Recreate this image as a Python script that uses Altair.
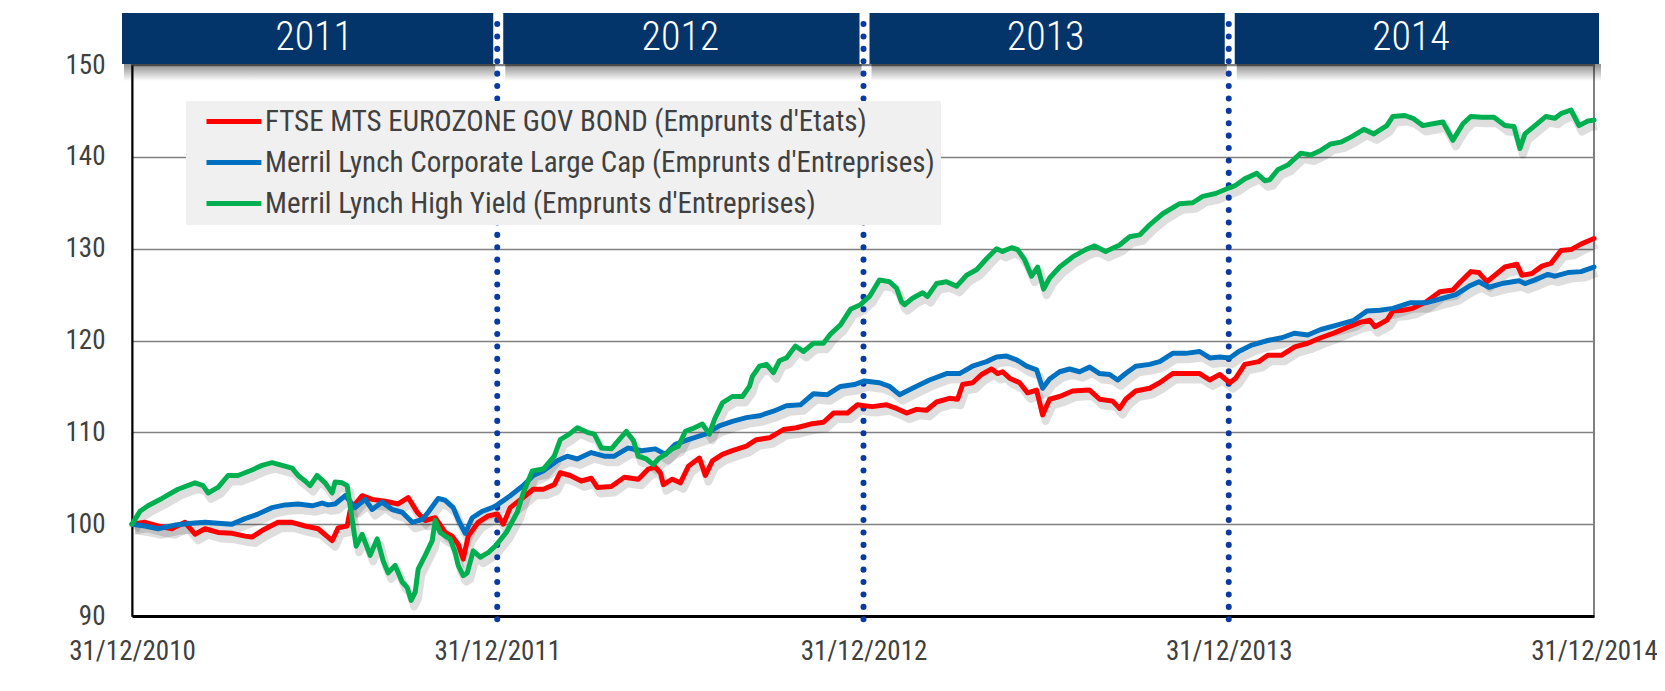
import altair as alt
import pandas as pd

FONT = "Liberation Sans Narrow, Arial Narrow, Roboto Condensed, DejaVu Sans Condensed, sans-serif"

SERIES = [
    "FTSE MTS EUROZONE GOV BOND (Emprunts d'Etats)",
    "Merril Lynch Corporate Large Cap (Emprunts d'Entreprises)",
    "Merril Lynch High Yield (Emprunts d'Entreprises)",
]
COLORS = ["#ff0000", "#0070c0", "#00b050"]

# days since 31/12/2010 and index values (base 100)
red_days = [0, 13, 26, 40, 53, 63, 73, 86, 100, 113, 120, 130, 146, 160, 173, 186, 200, 206, 215, 218,
            230, 240, 253, 266, 276, 285, 293, 303, 313, 320, 326, 331, 336, 346, 356, 365, 371, 378, 391, 401,
            411, 422, 428, 438, 449, 459, 465, 479, 492, 506, 516, 523, 528, 531, 540, 548, 556, 567, 573, 580,
            590, 600, 614, 624, 637, 651, 664, 678, 691, 701, 715, 725, 732, 740, 754, 764, 774, 784, 794, 804,
            817, 825, 830, 840, 849, 859, 865, 870, 877, 887, 895, 904, 910, 917, 927, 940, 957, 967, 980, 987,
            993, 1003, 1017, 1027, 1040, 1053, 1067, 1077, 1087, 1097, 1103, 1112, 1126, 1135, 1149, 1162, 1175, 1188, 1201, 1214,
            1228, 1237, 1242, 1254, 1260, 1270, 1280, 1293, 1307, 1320, 1326, 1338, 1346, 1354, 1362, 1372, 1384, 1389, 1399, 1409,
            1418, 1428, 1438, 1448, 1461]
red_vals = [100, 100.2, 99.8, 99.5, 100.2, 98.9, 99.5, 99.1, 99, 98.7, 98.6, 99.3, 100.2, 100.2, 99.8, 99.5, 98.2, 99.6, 99.8, 101.5,
            103.1, 102.7, 102.5, 102.2, 102.9, 101.3, 100.4, 100.7, 99.1, 98.7, 97.8, 96.2, 98.7, 100.2, 100.9, 101.1, 100, 101.8, 102.9, 103.8,
            103.8, 104.3, 105.6, 105.3, 104.7, 105, 104, 104.1, 105.1, 104.9, 106, 106.2, 105.6, 104.3, 104.9, 104.5, 106.3, 107.2, 105.3, 106.9,
            107.6, 108, 108.5, 109.2, 109.4, 110.3, 110.5, 110.9, 111.1, 112.1, 112.1, 113, 112.9, 112.8, 113, 112.6, 112.1, 112.5, 112.4, 113.3,
            113.7, 113.6, 115.2, 115.4, 116.3, 116.9, 116.4, 116.6, 115.9, 115.4, 114.3, 114.6, 111.9, 113.6, 113.9, 114.5, 114.6, 113.6, 113.4, 112.6,
            113.6, 114.5, 114.8, 115.4, 116.4, 116.4, 116.4, 115.7, 116.3, 115.4, 115.9, 117.4, 117.7, 118.4, 118.4, 119.3, 119.7, 120.3, 120.8, 121.4,
            122, 122.2, 121.5, 122.2, 123.2, 123.3, 123.5, 124.2, 125.3, 125.5, 126.2, 127.5, 127.4, 126.4, 127.1, 128, 128.3, 127.1, 127.3, 128.1,
            128.4, 129.8, 129.9, 130.5, 131.1]

blue_days = [0, 13, 26, 43, 60, 73, 86, 100, 113, 126, 140, 153, 166, 180, 190, 196, 203, 213, 223, 233,
             240, 250, 260, 270, 280, 290, 296, 306, 313, 321, 326, 333, 340, 350, 360, 365, 378, 391, 401, 411,
             425, 435, 445, 459, 472, 482, 496, 509, 523, 533, 543, 556, 573, 587, 600, 614, 627, 641, 654, 668,
             681, 695, 708, 722, 732, 747, 757, 767, 780, 797, 814, 827, 840, 854, 864, 874, 884, 894, 904, 910,
             917, 927, 937, 947, 957, 967, 977, 985, 993, 1003, 1017, 1027, 1040, 1053, 1067, 1077, 1087, 1097, 1106, 1119,
             1135, 1149, 1162, 1175, 1188, 1205, 1221, 1234, 1247, 1260, 1277, 1293, 1310, 1323, 1336, 1346, 1356, 1369, 1386, 1392,
             1402, 1415, 1422, 1435, 1448, 1461]
blue_vals = [100, 99.8, 99.5, 99.9, 100.1, 100.2, 100.1, 100, 100.6, 101.1, 101.8, 102.1, 102.2, 102, 102.3, 102.1, 102.2, 103.1, 101.8, 102.7,
             101.6, 102.4, 101.6, 101.3, 100.2, 100.5, 101.3, 102.8, 102.6, 101.8, 100.5, 99, 100.7, 101.4, 101.8, 102.1, 103.1, 104.2, 105.3, 105.8,
             106.9, 107.4, 107.1, 107.8, 107.4, 107.4, 108.3, 108, 108.2, 107.6, 108.7, 109.2, 109.8, 110.7, 111.2, 111.6, 111.8, 112.3, 112.9, 113,
             114.2, 114.1, 115, 115.2, 115.6, 115.4, 115, 114.1, 114.8, 115.7, 116.4, 116.4, 117.2, 117.7, 118.2, 118.3, 117.9, 117.2, 116.8, 114.8,
             115.8, 116.6, 116.9, 116.6, 117.1, 116.4, 116.3, 115.7, 116.4, 117.2, 117.4, 117.7, 118.6, 118.6, 118.8, 118.1, 118.2, 118.1, 118.8, 119.5,
             120, 120.3, 120.8, 120.6, 121.2, 121.7, 122.2, 123.2, 123.3, 123.5, 124.1, 124.1, 124.6, 125, 125.9, 126.4, 125.8, 126.2, 126.5, 126.2,
             126.6, 127.2, 127, 127.4, 127.5, 128]

green_days = [0, 8, 16, 30, 46, 63, 71, 76, 86, 96, 106, 120, 130, 140, 150, 160, 166, 173, 178, 185,
              193, 200, 203, 210, 215, 220, 224, 230, 238, 245, 251, 256, 263, 270, 275, 279, 283, 286, 293, 300,
              303, 308, 313, 318, 323, 326, 331, 335, 341, 348, 356, 363, 374, 385, 391, 400, 411, 422, 428, 437,
              445, 455, 462, 469, 479, 486, 494, 501, 506, 514, 521, 526, 533, 540, 546, 553, 560, 570, 577, 582,
              590, 600, 610, 617, 620, 627, 634, 641, 647, 654, 663, 671, 681, 691, 698, 708, 718, 728, 737, 747,
              757, 764, 769, 772, 780, 790, 795, 804, 814, 824, 834, 844, 854, 864, 870, 879, 885, 892, 899, 905,
              911, 917, 927, 940, 953, 962, 973, 987, 997, 1007, 1017, 1030, 1047, 1060, 1070, 1083, 1096, 1103, 1112, 1124,
              1132, 1137, 1145, 1155, 1168, 1178, 1188, 1198, 1208, 1219, 1231, 1241, 1254, 1260, 1272, 1280, 1290, 1300, 1310, 1320,
              1330, 1338, 1349, 1361, 1372, 1381, 1387, 1392, 1402, 1413, 1422, 1428, 1438, 1446, 1455, 1461]
green_vals = [100, 101.4, 102, 102.8, 103.8, 104.5, 104.2, 103.4, 104, 105.3, 105.3, 105.9, 106.4, 106.7, 106.4, 106.1, 105.3, 104.7, 104.2, 105.3,
              104.5, 103.4, 104.6, 104.5, 104.2, 100.5, 97.6, 98.9, 96.6, 98.4, 96, 94.7, 95.5, 93.7, 93.1, 91.7, 92.6, 95.1, 96.6, 98.2,
              100.4, 99.1, 98.7, 98.4, 96.9, 95.5, 94.4, 94.7, 97.1, 96.4, 96.9, 97.6, 99.1, 101.3, 103.4, 105.8, 106, 107.4, 109.2, 109.8,
              110.5, 110, 109.8, 108.3, 108.2, 109.1, 110.1, 109.1, 107.4, 107.1, 106.5, 107.1, 107.6, 108.2, 108.5, 110.1, 110.4, 110.9, 109.8, 111.4,
              113.2, 113.9, 113.9, 115, 116.1, 117.2, 117.4, 116.5, 117.8, 118.1, 119.4, 118.8, 119.7, 119.7, 120.7, 121.7, 123.4, 123.9, 124.8, 126.6,
              126.4, 125.7, 124.2, 123.9, 124.6, 125.2, 124.8, 126.2, 126.4, 125.9, 127.1, 127.7, 128.9, 130, 129.7, 130.1, 129.9, 128.8, 127, 128,
              125.6, 126.8, 128, 129.1, 129.9, 130.3, 129.7, 130.4, 131.3, 131.5, 132.6, 133.8, 134.9, 135, 135.7, 136, 136.6, 136.9, 137.6, 138.2,
              137.4, 137.5, 138.6, 139.1, 140.4, 140.2, 140.7, 141.4, 141.6, 142.2, 143, 142.5, 143.4, 144.4, 144.5, 144.2, 143.4, 143.6, 143.8, 141.8,
              143.6, 144.4, 144.3, 144.3, 143.4, 143.3, 140.9, 142.5, 143.4, 144.4, 144.2, 144.7, 145.1, 143.4, 143.9, 144]

years = ["2011", "2012", "2013", "2014"]
year_starts = ["2010-12-31", "2011-12-31", "2012-12-31", "2013-12-31"]
year_ends = ["2011-12-31", "2012-12-31", "2013-12-31", "2014-12-31"]
boundaries = ["2011-12-31", "2012-12-31", "2013-12-31"]
y_ticks = [90, 100, 110, 120, 130, 140, 150]

base = pd.Timestamp("2010-12-31")
frames = []
for name, days, vals in zip(SERIES, [red_days, blue_days, green_days], [red_vals, blue_vals, green_vals]):
    d = (base + pd.to_timedelta(days, unit="D")).strftime("%Y-%m-%d")
    frames.append(pd.DataFrame({"date": d, "value": vals, "series": name}))
df = pd.concat(frames, ignore_index=True)

hdr = pd.DataFrame({"year": years, "start": year_starts, "end": year_ends})
hdr["mid"] = ((pd.to_datetime(hdr["start"]) + (pd.to_datetime(hdr["end"]) - pd.to_datetime(hdr["start"])) / 2)
              .dt.strftime("%Y-%m-%d"))
bnd = pd.DataFrame({"date": boundaries})

xscale = alt.Scale(type="utc", domain=[alt.DateTime(year=2010, month=12, date=31, utc=True),
                                       alt.DateTime(year=2014, month=12, date=31, utc=True)])
yscale = alt.Scale(domain=[90, 150], nice=False, zero=False)

xaxis = alt.Axis(
    values=[alt.DateTime(year=y, month=12, date=31, utc=True) for y in [2010, 2011, 2012, 2013, 2014]],
    labelExpr="utcFormat(datum.value, '%d/%m/%Y')",
    grid=False, ticks=False, domainColor="#000000", domainWidth=3,
    labelPadding=22, labelFontSize=27, labelFont=FONT, labelColor="#404040",
    labelFlush=False, labelOverlap=False, title=None,
)
yaxis = alt.Axis(
    values=y_ticks, grid=True, gridColor="#808080", gridWidth=1.5,
    ticks=False, domainColor="#000000", domainWidth=2,
    labelPadding=27, labelFontSize=27, labelFont=FONT, labelColor="#404040",
    labelFlush=False, title=None,
)

X = alt.X("date:T", scale=xscale, axis=xaxis)
Y = alt.Y("value:Q", scale=yscale, axis=yaxis)

shadow = alt.Chart(df).mark_line(
    color="#000000", opacity=0.13, strokeWidth=8, strokeJoin="round", xOffset=3, yOffset=6
).encode(x=X, y=Y, detail="series:N", order="date:T")

lines = alt.Chart(df).mark_line(strokeWidth=5, strokeJoin="round", strokeCap="round").encode(
    x=X, y=Y,
    color=alt.Color(
        "series:N",
        scale=alt.Scale(domain=SERIES, range=COLORS),
        sort=SERIES,
        legend=alt.Legend(
            title=None, orient="none", legendX=54, legendY=36,
            fillColor="#f0f0f0", padding=6,
            symbolType="M0,0H6.1", symbolSize=324, symbolStrokeWidth=5,
            symbolFillColor="transparent",
            labelOffset=44, labelFontSize=29, labelFont=FONT, labelColor="#404040",
            rowPadding=11, labelLimit=2000,
        ),
    ),
    order="date:T",
)

rule_x = alt.X("date:T", scale=xscale)
dots = alt.Chart(bnd).mark_rule(
    color="#0a3aa0", strokeWidth=6, strokeDash=[0.1, 12.3], strokeCap="round"
).encode(x=rule_x, y=alt.value(-41), y2=alt.value(556))

HX = alt.X("start:T", scale=xscale)
HX2 = alt.X2("end:T")
NAVY = "#03356a"


def header_rect(filter_expr, xo, x2o):
    return alt.Chart(hdr).transform_filter(filter_expr).mark_rect(
        color=NAVY, xOffset=xo, x2Offset=x2o
    ).encode(x=HX, x2=HX2, y=alt.value(-52), y2=alt.value(-1))


def header_shadow(filter_expr, xo, x2o):
    grad = alt.Gradient(
        gradient="linear",
        stops=[alt.GradientStop(color="rgba(0,0,0,0.45)", offset=0),
               alt.GradientStop(color="rgba(0,0,0,0)", offset=1)],
        x1=0, x2=0, y1=0, y2=1,
    )
    return alt.Chart(hdr).transform_filter(filter_expr).mark_rect(
        color=grad, xOffset=xo, x2Offset=x2o
    ).encode(x=HX, x2=HX2, y=alt.value(-1), y2=alt.value(16))


f1 = "datum.year == '2011'"
f2 = "datum.year == '2012' || datum.year == '2013'"
f3 = "datum.year == '2014'"

hdr_shadows = header_shadow(f1, -8, -2) + header_shadow(f2, 8, -2) + header_shadow(f3, 8, 7)
hdr_rects = header_rect(f1, -10, -4) + header_rect(f2, 6, -4) + header_rect(f3, 6, 5)
hdr_text = alt.Chart(hdr).mark_text(
    color="#ffffff", fontSize=40, font=FONT, fontWeight=300, baseline="middle", align="center"
).encode(x=alt.X("mid:T", scale=xscale), y=alt.value(-27), text="year:N")

chart = alt.layer(
    hdr_shadows, shadow, dots, lines, hdr_rects, hdr_text
).properties(
    width=1462, height=551,
    autosize=alt.AutoSizeParams(type="none"),
    padding={"left": 124, "top": 57, "right": 63, "bottom": 63},
    background="#ffffff",
).configure_view(
    stroke="#808080", strokeWidth=2
)

chart.save("out.html", embed_options={"renderer": "svg", "actions": False})
